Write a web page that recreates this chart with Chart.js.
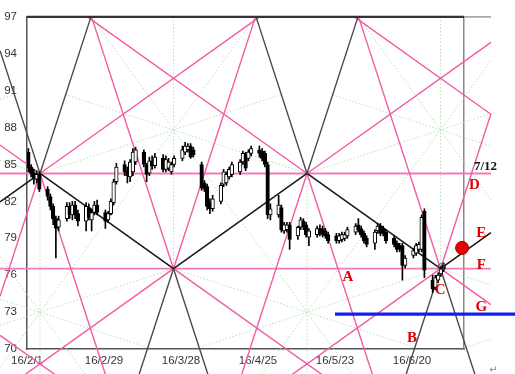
<!DOCTYPE html>
<html>
<head>
<meta charset="utf-8">
<script src="https://cdn.jsdelivr.net/npm/chart.js@4.4.0/dist/chart.umd.min.js"></script>
<style>
  html, body { margin: 0; padding: 0; background: #fff; }
  #wrap { width: 515px; height: 374px; }
</style>
</head>
<body>
<div id="wrap"><canvas id="gannChart" width="515" height="374"></canvas></div>
<script>
// x axis = calendar days counted from 2016-02-01 (Mon)
var xTickDays = [0, 28, 56, 84, 112, 140];
var xTickLabels = ['16/2/1', '16/2/29', '16/3/28', '16/4/25', '16/5/23', '16/6/20'];

// daily candles, one per weekday from 16/2/1 to 16/7/1
var candleOpen = [
    86.0, 84.8, 84.3, 83.8, 84.2,   83.0, 82.4, 81.6, 80.6, 79.9,
    80.6, 81.6, 80.9, 81.7, 81.0,   80.4, 81.5, 80.5, 81.1, 81.7,
    81.1, 80.5, 81.0, 81.9, 83.6,   85.0, 84.5, 84.0, 84.4, 85.2,
    86.0, 85.0, 84.3, 85.3, 84.9,   85.5, 84.6, 84.7, 84.4, 85.0,
    85.5, 86.0, 86.2, 86.5, 86.2,   85.0, 83.5, 83.2, 81.9, 81.4,
    82.0, 83.4, 83.5, 84.0, 84.2,   84.4, 85.2, 85.8, 85.5, 85.9,
    86.2, 86.1, 85.9, 85.0, 80.9,   80.9, 81.5, 79.6, 79.7, 80.1,
    79.2, 79.9, 80.4, 80.1, 79.1,   79.3, 79.8, 79.8, 79.6, 79.3,
    79.2, 78.8, 78.9, 79.0, 79.2,   79.5, 80.1, 79.8, 79.4, 79.0,
    78.6, 79.6, 80.0, 79.8, 79.5,   79.0, 78.6, 78.4, 78.4, 76.8,
    77.6, 77.8, 78.1, 78.1, 81.2,   75.6, 75.0, 75.6, 76.1, 76.8
];
var candleHigh = [
    86.3, 85.0, 84.6, 84.5, 84.4,   83.2, 82.6, 81.8, 80.8, 80.8,
    81.9, 81.9, 82.0, 82.0, 81.3,   81.9, 81.8, 81.4, 82.0, 82.1,
    81.3, 81.2, 82.2, 83.8, 85.1,   85.3, 84.8, 85.4, 86.3, 86.4,
    86.2, 85.1, 85.6, 85.7, 85.9,   85.8, 85.7, 85.5, 85.2, 85.7,
    86.5, 86.8, 86.7, 86.7, 86.4,   85.2, 83.7, 83.4, 82.2, 82.5,
    83.5, 84.6, 84.4, 84.8, 85.2,   85.4, 86.1, 86.0, 86.2, 86.5,
    86.5, 86.3, 86.1, 85.2, 81.8,   82.5, 81.7, 80.3, 80.3, 80.3,
    80.0, 80.7, 80.6, 80.3, 79.8,   80.0, 80.1, 80.0, 79.8, 79.5,
    79.4, 79.4, 79.5, 79.5, 79.9,   80.2, 80.6, 80.0, 79.6, 79.2,
    79.7, 80.2, 80.2, 80.0, 79.7,   79.2, 78.8, 78.6, 78.6, 77.6,
    78.2, 78.6, 78.7, 80.9, 81.4,   76.0, 76.0, 76.2, 76.7, 77.0
];
var candleLow = [
    84.4, 84.0, 83.4, 83.5, 82.8,   82.1, 81.3, 80.1, 77.4, 79.6,
    80.4, 80.6, 80.5, 80.6, 80.0,   79.6, 80.5, 79.6, 80.9, 80.9,
    79.8, 80.3, 80.9, 81.7, 83.4,   84.1, 83.5, 83.6, 84.1, 85.0,
    84.8, 83.6, 84.1, 84.6, 84.7,   84.4, 84.4, 84.5, 84.2, 84.8,
    85.3, 85.8, 86.0, 85.5, 85.6,   82.9, 82.8, 81.3, 81.0, 81.2,
    81.8, 83.2, 83.3, 83.8, 84.0,   84.2, 85.0, 84.5, 85.3, 85.7,
    85.6, 85.3, 84.8, 80.6, 80.5,   80.7, 79.5, 79.4, 79.5, 78.1,
    78.9, 79.7, 79.7, 79.1, 78.4,   79.1, 79.2, 79.1, 79.0, 78.6,
    78.6, 78.6, 78.7, 78.8, 79.0,   79.3, 79.5, 79.1, 78.6, 78.3,
    78.1, 79.4, 79.2, 79.2, 78.6,   78.3, 77.9, 77.9, 75.6, 76.6,
    77.4, 77.6, 77.9, 77.9, 75.8,   74.6, 74.8, 75.4, 75.9, 76.3
];
var candleClose = [
    84.7, 84.3, 83.8, 84.2, 83.0,   82.4, 81.6, 80.6, 79.8, 80.5,
    81.6, 80.9, 81.7, 80.9, 80.4,   81.6, 80.7, 81.1, 81.7, 81.1,
    80.4, 81.0, 82.0, 83.6, 84.8,   84.4, 84.1, 85.2, 86.0, 86.2,
    85.0, 84.2, 85.3, 84.9, 85.6,   84.6, 85.4, 85.2, 85.0, 85.5,
    86.2, 86.5, 86.5, 85.6, 85.8,   83.1, 83.0, 81.6, 81.4, 82.2,
    83.3, 84.4, 84.2, 84.6, 85.0,   85.2, 85.9, 84.7, 86.0, 86.3,
    85.9, 85.5, 85.0, 80.9, 81.4,   81.7, 79.7, 80.1, 80.1, 78.9,
    79.9, 80.5, 79.9, 79.3, 79.6,   79.8, 79.4, 79.3, 79.2, 78.8,
    78.8, 79.2, 79.3, 79.3, 79.7,   80.0, 79.7, 79.3, 78.8, 78.5,
    79.5, 80.0, 79.4, 79.4, 78.8,   78.5, 78.1, 78.1, 76.8, 77.4,
    78.0, 78.4, 78.5, 80.7, 76.4,   74.9, 75.8, 76.0, 76.5, 76.5
];

// gann frame (days, prices)
var gannTop = 97;
var upperLevel = 84.27;
var lowerLevel = 76.53;
var upperPivotDays = [-92.4, 4.73, 101.82, 198.9];
var lowerPivotDays = [-43.8, 53.27, 150.36];
var steepSlope = 0.687;   // price per day
var shallowSlope = (upperLevel - lowerLevel) / (lowerPivotDays[1] - upperPivotDays[1]);
var frameLeftDay = -9.8;
var frameRightDay = 168.7;
var axisEndDay = 158.9;
var floorPrice = 60;

// target line, marker and notes
var targetPrice = 72.83;
var targetFromDay = 112;
var markerPoint = { x: 158.2, y: 78.22 };
var pivotMark = { x: 150.55, y: 76.69 };
var notes = [
    { text: '7/12', day: 162.5, price: 84.83, kind: 'date' },
    { text: 'D', day: 162.7, price: 83.3, kind: 'letter' },
    { text: 'E', day: 165.2, price: 79.43, kind: 'letter' },
    { text: 'F', day: 165.2, price: 76.85, kind: 'letter' },
    { text: 'G', day: 165.2, price: 73.38, kind: 'letter' },
    { text: 'C', day: 150.2, price: 74.75, kind: 'letter' },
    { text: 'B', day: 140.0, price: 70.87, kind: 'letter' },
    { text: 'A', day: 116.7, price: 75.88, kind: 'letter' },
    { text: '\u21B5', day: 169.5, price: 68.3, kind: 'mark' }
];

var PINK = '#f45aa5';
var PINK_FLAT = '#f47ab6';
var BLACK = '#161616';
var GRAY = '#4a4a4a';
var GREEN = '#b4e2b4';

function ray(day, price, dir, slope, toPrice) {
    return [
        { x: day, y: price },
        { x: day + dir * Math.abs(toPrice - price) / slope, y: toPrice }
    ];
}

function clipToFrame(pts) {
    var a = pts[0], b = pts[1];
    if (a.x > b.x) { var t = a; a = b; b = t; }
    if (b.x < frameLeftDay || a.x > frameRightDay) return null;
    if (a.x === b.x) return [a, b];
    var k = (b.y - a.y) / (b.x - a.x);
    var x1 = a.x, y1 = a.y, x2 = b.x, y2 = b.y;
    if (x1 < frameLeftDay) { y1 += k * (frameLeftDay - x1); x1 = frameLeftDay; }
    if (x2 > frameRightDay) { y2 -= k * (x2 - frameRightDay); x2 = frameRightDay; }
    return [{ x: x1, y: y1 }, { x: x2, y: y2 }];
}

function lineSet(pts, color, width, order, dash) {
    return {
        type: 'line',
        data: pts,
        borderColor: color,
        borderWidth: width,
        borderDash: dash || [],
        pointRadius: 0,
        fill: false,
        tension: 0,
        clip: false,
        order: order
    };
}

var datasets = [];

function addSegment(pts, color, width, order, dash) {
    var c = clipToFrame(pts);
    if (c) datasets.push(lineSet(c, color, width, order, dash));
}

// gann lines through the upper and lower pivots
upperPivotDays.forEach(function(d) {
    [-1, 1].forEach(function(dir) {
        addSegment(ray(d, upperLevel, dir, steepSlope, gannTop), GRAY, 1.4, 30);
        addSegment(ray(d, upperLevel, dir, steepSlope, floorPrice), PINK, 1.4, 40);
        addSegment(ray(d, upperLevel, dir, shallowSlope, gannTop), PINK, 1.4, 40);
        addSegment(ray(d, upperLevel, dir, shallowSlope, lowerLevel), BLACK, 1.5, 30);
    });
});
lowerPivotDays.forEach(function(d) {
    [-1, 1].forEach(function(dir) {
        addSegment(ray(d, lowerLevel, dir, steepSlope, gannTop), PINK, 1.4, 40);
        addSegment(ray(d, lowerLevel, dir, steepSlope, floorPrice), GRAY, 1.4, 30);
        addSegment(ray(d, lowerLevel, dir, shallowSlope, floorPrice), PINK, 1.4, 40);
    });
});

// horizontal levels and top edge
[upperLevel, lowerLevel].forEach(function(p) {
    datasets.push(lineSet([{ x: frameLeftDay, y: p }, { x: frameRightDay, y: p }], PINK_FLAT, 1.8, 41));
});
datasets.push(lineSet([{ x: 0, y: gannTop }, { x: axisEndDay, y: gannTop }], '#333', 2.2, 29));
datasets.push(lineSet([{ x: axisEndDay, y: gannTop }, { x: frameRightDay, y: gannTop }], '#999', 1.5, 29));

// dotted star fans in the middle of each cell
var midLevel = (upperLevel + lowerLevel) / 2;
var starFan = [
    [{ dx: 0, p: gannTop }, { dx: 0, p: lowerLevel }],
    [{ dx: -29.8, p: gannTop }, { dx: 24, p: midLevel }],
    [{ dx: 29.8, p: gannTop }, { dx: -24, p: midLevel }],
    [{ dx: -48.54, p: upperLevel }, { dx: 39.3, p: 90.68 }],
    [{ dx: 48.54, p: upperLevel }, { dx: -39.3, p: 90.68 }]
];
function addStar(day, mirrored) {
    starFan.forEach(function(s) {
        var pts = s.map(function(q) {
            return { x: day + q.dx, y: mirrored ? 2 * midLevel - q.p : q.p };
        });
        addSegment(pts, GREEN, 1, 50, [1.5, 2]);
    });
}
lowerPivotDays.forEach(function(d) { addStar(d, false); });
upperPivotDays.forEach(function(d) { addStar(d, true); });

// target line and markers
datasets.push(lineSet([{ x: targetFromDay, y: targetPrice }, { x: 185, y: targetPrice }], '#1020f0', 3.2, 5));
datasets.push({
    type: 'line', data: [markerPoint], showLine: false, clip: false, order: 3,
    pointRadius: 6.5, pointBackgroundColor: '#e60000', pointBorderColor: '#a00000', pointBorderWidth: 1
});
datasets.push({
    type: 'line', data: [pivotMark], showLine: false, clip: false, order: 2,
    pointRadius: 3, pointBackgroundColor: 'rgba(0,0,0,0)', pointBorderColor: '#555', pointBorderWidth: 1
});

// candles: wick and body
var candleDays = candleOpen.map(function(_, i) {
    return Math.floor(i / 5) * 7 + (i % 5) + 0.5;
});
datasets.push({
    type: 'bar',
    data: candleDays.map(function(d, i) { return { x: d, y: [candleLow[i], candleHigh[i]] }; }),
    backgroundColor: '#000',
    borderWidth: 0,
    barThickness: 1,
    grouped: false,
    order: 20
});
datasets.push({
    type: 'bar',
    data: candleDays.map(function(d, i) { return { x: d, y: [candleOpen[i], candleClose[i]] }; }),
    backgroundColor: candleDays.map(function(_, i) { return candleClose[i] >= candleOpen[i] ? '#fff' : '#000'; }),
    borderColor: '#000',
    borderWidth: 1,
    borderSkipped: false,
    barThickness: 3.6,
    grouped: false,
    order: 10
});

var notesPlugin = {
    id: 'notes',
    afterDatasetsDraw: function(chart) {
        var ctx = chart.ctx;
        var xs = chart.scales.x, ys = chart.scales.y;
        ctx.save();
        ctx.textBaseline = 'middle';
        notes.forEach(function(n) {
            var px = xs.getPixelForValue(n.day);
            var py = ys.getPixelForValue(n.price);
            if (n.kind === 'date') {
                ctx.font = 'bold 13px "Liberation Serif"';
                ctx.fillStyle = '#111';
                ctx.textAlign = 'left';
            } else if (n.kind === 'letter') {
                ctx.font = 'bold 15px "Liberation Serif"';
                ctx.fillStyle = '#e00000';
                ctx.textAlign = 'center';
            } else {
                ctx.font = '10px "DejaVu Sans"';
                ctx.fillStyle = '#888';
                ctx.textAlign = 'center';
            }
            ctx.fillText(n.text, px, py);
        });
        ctx.restore();
    }
};

Chart.defaults.font.family = '"Liberation Sans", Arial, sans-serif';

var ctx = document.getElementById('gannChart').getContext('2d');
var gannChart = new Chart(ctx, {
    type: 'bar',
    data: { datasets: datasets },
    options: {
        responsive: false,
        animation: false,
        events: [],
        layout: { padding: { left: 0, right: 51, top: 14, bottom: 0 } },
        plugins: { legend: { display: false }, tooltip: { enabled: false } },
        scales: {
            x: {
                type: 'linear',
                bounds: 'data',
                offset: false,
                afterDataLimits: function(s) { s.min = 0; s.max = axisEndDay; },
                afterBuildTicks: function(s) { s.ticks = xTickDays.map(function(v) { return { value: v }; }); },
                afterFit: function(s) { s.height = 25; },
                grid: { display: false, drawTicks: false },
                border: { color: '#555', width: 1.5 },
                ticks: {
                    autoSkip: false, maxRotation: 0, padding: 5,
                    color: '#333', font: { size: 11.5 },
                    callback: function(v) {
                        var i = xTickDays.indexOf(v);
                        return i >= 0 ? xTickLabels[i] : '';
                    }
                }
            },
            y: {
                type: 'linear',
                position: 'left',
                min: 70,
                max: 97,
                afterFit: function(s) { s.width = 27; },
                grid: { display: false, drawTicks: false },
                border: { color: '#555', width: 1.5 },
                ticks: { stepSize: 3, padding: 10, color: '#333', font: { size: 11.5 } }
            },
            y2: {
                type: 'linear',
                position: 'right',
                min: 70,
                max: 97,
                afterFit: function(s) { s.width = 0; },
                grid: { display: false, drawTicks: false },
                border: { color: '#888', width: 1.5 },
                ticks: { display: false }
            }
        }
    },
    plugins: [notesPlugin]
});
</script>
</body>
</html>
